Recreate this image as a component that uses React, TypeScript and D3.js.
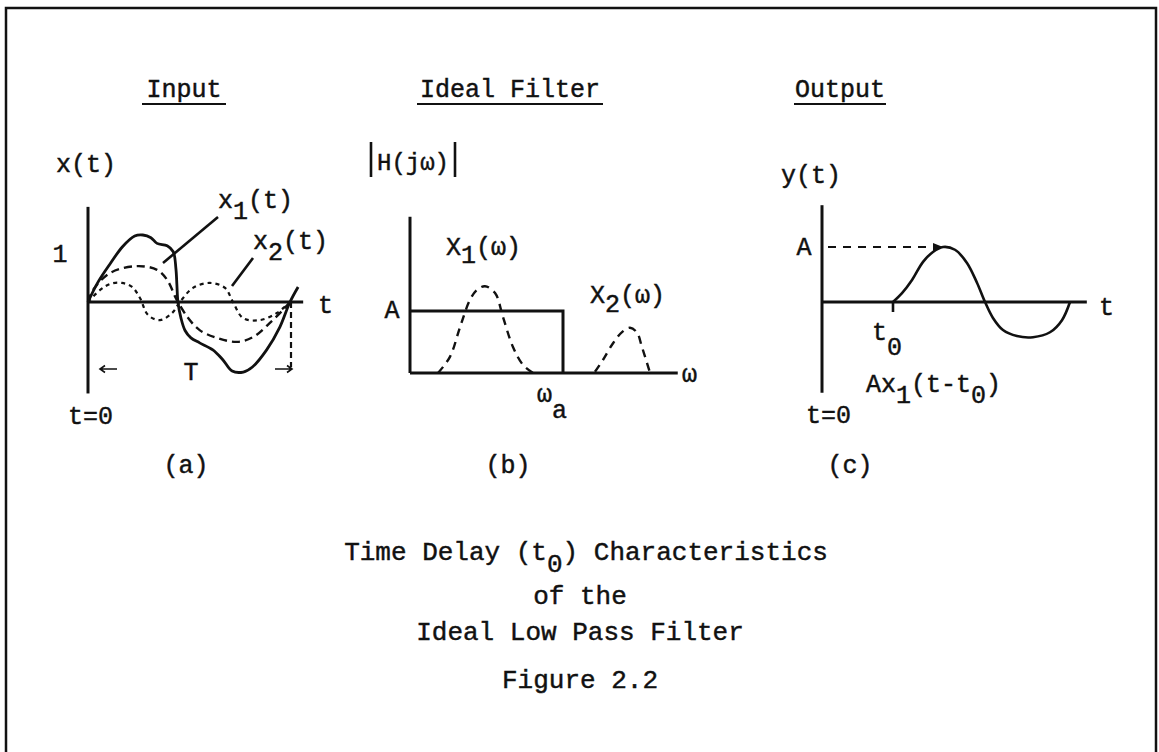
import React from 'react';
import * as d3 from 'd3';

type Pt = [number, number];

const FONT = '"Liberation Mono", "DejaVu Sans Mono", monospace';

// ---- Panel (a): input signals, time in units of the period T ----
const inputSum: Pt[] = [
  [0, 0], [0.05, 0.6], [0.11, 1.15], [0.17, 1.65], [0.23, 1.97], [0.27, 2.0],
  [0.31, 1.92], [0.34, 1.75], [0.39, 1.68], [0.42, 1.5], [0.433, 1.0], [0.438, 0.5],
  [0.443, 0], [0.458, -0.48], [0.478, -0.85], [0.507, -1.07], [0.55, -1.22],
  [0.615, -1.43], [0.665, -1.73], [0.71, -2.06], [0.765, -2.09], [0.81, -1.94],
  [0.88, -1.43], [0.945, -0.75], [0.995, 0], [1.035, 0.45],
];
const inputX1: Pt[] = [
  [0, 0], [0.025, 0.36], [0.11, 0.87], [0.24, 1.07], [0.34, 0.96], [0.39, 0.66],
  [0.43, 0.15], [0.443, 0], [0.49, -0.45], [0.55, -0.84], [0.635, -1.07],
  [0.735, -1.19], [0.815, -1.04], [0.9, -0.6], [0.96, -0.24], [0.995, 0],
];
const inputX2: Pt[] = [
  [0, 0], [0.06, 0.36], [0.11, 0.54], [0.167, 0.57], [0.217, 0.45], [0.256, 0.12],
  [0.296, -0.39], [0.355, -0.54], [0.414, -0.33], [0.453, 0], [0.517, 0.42],
  [0.6, 0.57], [0.675, 0.42], [0.714, 0], [0.764, -0.48], [0.847, -0.54],
  [0.93, -0.33], [0.995, 0],
];
const periodT = 1;

// ---- Panel (b): ideal filter magnitude and input spectra, ω in units of ωa ----
const filterGain: Pt[] = [[0, 1], [1, 1], [1, 0]];
const spectrumX1: Pt[] = [
  [0.183, 0], [0.261, 0.26], [0.327, 0.74], [0.392, 1.18], [0.438, 1.34], [0.49, 1.4],
  [0.556, 1.29], [0.608, 0.9], [0.673, 0.42], [0.739, 0.13], [0.804, 0],
];
const spectrumX2: Pt[] = [
  [1.209, 0.02], [1.261, 0.21], [1.327, 0.48], [1.386, 0.66], [1.438, 0.73],
  [1.484, 0.65], [1.516, 0.42], [1.569, 0],
];

// ---- Panel (c): delayed output, time in units of t0, amplitude in units of A ----
const outputY: Pt[] = [
  [1.0, 0], [1.127, 0.16], [1.268, 0.4], [1.423, 0.73], [1.563, 0.91], [1.704, 1.0],
  [1.873, 0.95], [2.042, 0.71], [2.183, 0.35], [2.296, 0], [2.408, -0.29],
  [2.549, -0.51], [2.746, -0.62], [2.972, -0.64], [3.211, -0.55], [3.38, -0.33],
  [3.493, 0],
];
const delayT0 = 1;
const peakT = 1.704;

// ---- Text ----
const titles = ['Input', 'Ideal Filter', 'Output'];
const panelTags = ['(a)', '(b)', '(c)'];
const captionLines = ['of the', 'Ideal Low Pass Filter'];
const figureLabel = 'Figure 2.2';

// scales
const tA = d3.scaleLinear().domain([0, 1]).range([88, 291]);
const vA = d3.scaleLinear().domain([0, 1]).range([302, 268.5]);
const wB = d3.scaleLinear().domain([0, 1]).range([410, 563]);
const hB = d3.scaleLinear().domain([0, 1]).range([373, 311]);
const tC = d3.scaleLinear().domain([0, 1]).range([822, 893]);
const vC = d3.scaleLinear().domain([0, 1]).range([302, 247]);

const smooth = (sx: d3.ScaleLinear<number, number>, sy: d3.ScaleLinear<number, number>) =>
  d3.line<Pt>().x(d => sx(d[0])).y(d => sy(d[1])).curve(d3.curveCatmullRom.alpha(0.5));
const straight = (sx: d3.ScaleLinear<number, number>, sy: d3.ScaleLinear<number, number>) =>
  d3.line<Pt>().x(d => sx(d[0])).y(d => sy(d[1]));

const INK = '#111';

function Arrow({ x1, x2, y }: { x1: number; x2: number; y: number }) {
  const dir = Math.sign(x2 - x1);
  return (
    <path
      d={`M${x1},${y}H${x2}M${x2 - dir * 5},${y - 3.5}L${x2},${y}L${x2 - dir * 5},${y + 3.5}`}
      fill="none" stroke={INK} strokeWidth={1.6}
    />
  );
}

export default function App() {
  const lineA = smooth(tA, vA);
  const lineB = smooth(wB, hB);
  const lineC = smooth(tC, vC);
  const rectB = straight(wB, hB);

  const titleX = [184, 510, 840];
  const titleW = [84, 186, 92];
  const tagX = [186, 508, 850];

  const fs = 25;
  const textInk = { stroke: INK, strokeWidth: 0.45 };

  return (
    <svg width={1159} height={752} style={{ position: 'absolute', left: 0, top: 0, background: '#fff' }}
      fontFamily={FONT} fill={INK}>
      {/* frame */}
      <path d="M6,770V8H1156V770" fill="none" stroke={INK} strokeWidth={2.5} />

      <g {...textInk}>
        {/* titles */}
        {titles.map((t, i) => (
          <g key={t}>
            <text x={titleX[i]} y={97} fontSize={fs} textAnchor="middle">{t}</text>
            <line x1={titleX[i] - titleW[i] / 2} x2={titleX[i] + titleW[i] / 2} y1={104} y2={104}
              stroke={INK} strokeWidth={2} />
          </g>
        ))}
      </g>

      {/* ---------- panel (a) ---------- */}
      <g fill="none" stroke={INK}>
        <line x1={tA(0)} x2={tA(0)} y1={vA(2.84)} y2={vA(-2.73)} strokeWidth={3} />
        <line x1={tA(0)} x2={tA(1.06)} y1={vA(0)} y2={vA(0)} strokeWidth={3} />
        <path d={lineA(inputSum) ?? ''} strokeWidth={2.8} />
        <path d={lineA(inputX1) ?? ''} strokeWidth={2.4} strokeDasharray="8 5" />
        <path d={lineA(inputX2) ?? ''} strokeWidth={2.2} strokeDasharray="4 4" />
        <line x1={tA(periodT)} x2={tA(periodT)} y1={vA(0)} y2={vA(-1.95)} strokeWidth={2.2}
          strokeDasharray="6 4" />
        <line x1={218} y1={217} x2={163} y2={263} strokeWidth={2.6} />
        <line x1={253} y1={258} x2={232} y2={286} strokeWidth={2.6} />
      </g>
      <Arrow x1={117} x2={100} y={369} />
      <Arrow x1={275} x2={292} y={369} />
      <g fontSize={fs} {...textInk}>
        <text x={56} y={172}>x(t)</text>
        <text x={60} y={262} textAnchor="middle">1</text>
        <text x={218} y={208}>x<tspan dy={11}>1</tspan><tspan dy={-11}>(t)</tspan></text>
        <text x={253} y={249}>x<tspan dy={11}>2</tspan><tspan dy={-11}>(t)</tspan></text>
        <text x={318} y={313}>t</text>
        <text x={191} y={380} textAnchor="middle">T</text>
        <text x={68} y={424}>t=0</text>
      </g>

      {/* ---------- panel (b) ---------- */}
      <g fill="none" stroke={INK}>
        <line x1={wB(0)} x2={wB(0)} y1={hB(2.52)} y2={hB(0)} strokeWidth={3} />
        <line x1={wB(0)} x2={wB(1.75)} y1={hB(0)} y2={hB(0)} strokeWidth={3} />
        <path d={rectB(filterGain) ?? ''} strokeWidth={3} />
        <path d={lineB(spectrumX1) ?? ''} strokeWidth={2.4} strokeDasharray="8 6" />
        <path d={lineB(spectrumX2) ?? ''} strokeWidth={2.4} strokeDasharray="8 6" />
        <line x1={371} x2={371} y1={142} y2={177} strokeWidth={2.6} />
        <line x1={455} x2={455} y1={142} y2={177} strokeWidth={2.6} />
      </g>
      <g fontSize={fs} {...textInk}>
        <text x={377} y={170} fontSize={24}>H(jω)</text>
        <text x={392} y={hB(1) + 7} textAnchor="middle">A</text>
        <text x={446} y={255}>X<tspan dy={8}>1</tspan><tspan dy={-8}>(ω)</tspan></text>
        <text x={590} y={303}>X<tspan dy={9}>2</tspan><tspan dy={-9}>(ω)</tspan></text>
        <text x={682} y={382}>ω</text>
        <text x={537} y={402}>ω<tspan dy={16}>a</tspan></text>
      </g>

      {/* ---------- panel (c) ---------- */}
      <g fill="none" stroke={INK}>
        <line x1={tC(0)} x2={tC(0)} y1={vC(1.76)} y2={vC(-1.65)} strokeWidth={3} />
        <line x1={tC(0)} x2={tC(3.73)} y1={vC(0)} y2={vC(0)} strokeWidth={3} />
        <line x1={tC(delayT0)} x2={tC(delayT0)} y1={vC(0)} y2={vC(0) + 10} strokeWidth={2.6} />
        <path d={lineC(outputY) ?? ''} strokeWidth={2.6} />
        <line x1={tC(0) + 6} x2={tC(peakT) - 8} y1={vC(1)} y2={vC(1)} strokeWidth={2.2}
          strokeDasharray="8 7" />
      </g>
      <path d={`M${tC(peakT) - 10},${vC(1) - 4}L${tC(peakT)},${vC(1)}L${tC(peakT) - 10},${vC(1) + 4}Z`}
        fill={INK} />
      <g fontSize={fs} {...textInk}>
        <text x={781} y={183}>y(t)</text>
        <text x={804} y={vC(1) + 8} textAnchor="middle">A</text>
        <text x={1099} y={315}>t</text>
        <text x={872} y={340}>t<tspan dy={15}>0</tspan></text>
        <text x={866} y={392}>Ax<tspan dy={11}>1</tspan><tspan dy={-11}>(t-t</tspan><tspan dy={11}>0</tspan><tspan dy={-11}>)</tspan></text>
        <text x={806} y={423}>t=0</text>
      </g>

      {/* panel tags */}
      <g {...textInk}>
        {panelTags.map((t, i) => (
          <text key={t} x={tagX[i]} y={473} fontSize={fs} textAnchor="middle">{t}</text>
        ))}
      </g>

      {/* caption */}
      <g fontSize={26} textAnchor="middle" {...textInk}>
        <text x={586} y={560}>Time Delay (t<tspan dy={12}>0</tspan><tspan dy={-12}>) Characteristics</tspan></text>
        <text x={580} y={604}>{captionLines[0]}</text>
        <text x={580} y={640}>{captionLines[1]}</text>
        <text x={580} y={688}>{figureLabel}</text>
      </g>
    </svg>
  );
}
